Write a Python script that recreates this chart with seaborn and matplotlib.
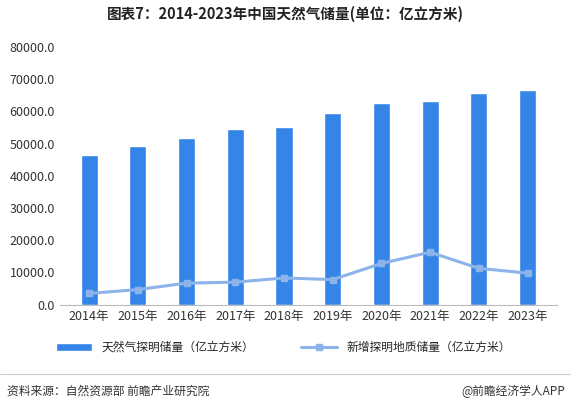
import matplotlib
matplotlib.use("Agg")
import matplotlib.pyplot as plt
import seaborn as sns
import numpy as np

years = ["2014年","2015年","2016年","2017年","2018年","2019年","2020年","2021年","2022年","2023年"]
reserves = [46400, 49200, 51900, 54400, 55200, 59400, 62700, 63400, 65700, 66800]
new_add = [3500, 4700, 6700, 7000, 8300, 7800, 12800, 16300, 11300, 9800]

sns.set_style("white")
plt.rcParams['font.family'] = ['Noto Sans CJK SC', 'DejaVu Sans']

fig = plt.figure(figsize=(5.71, 4.09), dpi=100)
ax = fig.add_axes([0.105, 0.255, 0.87, 0.63])
x = np.arange(len(years))
sns.barplot(x=x, y=reserves, color="#3585e8", saturation=1, width=0.35, ax=ax, label="天然气探明储量（亿立方米）")
ax.plot(x, new_add, color="#8db4ea", lw=2.2, marker="s", ms=5, label="新增探明地质储量（亿立方米）")
ax.set_ylim(0, 80000)
ax.set_xlim(-0.6, 9.6)
ax.set_yticks(range(0, 80001, 10000))
ax.set_yticklabels([f"{v:.1f}" for v in range(0, 80001, 10000)], fontsize=9, color="#333333")
ax.set_xticks(x)
ax.set_xticklabels(years, fontsize=9, color="#333333")
for s in ["top", "right", "left"]:
    ax.spines[s].set_visible(False)
ax.spines["bottom"].set_color("#bbbbbb")
ax.tick_params(length=0)
h, l = ax.get_legend_handles_labels()
order = [l.index("天然气探明储量（亿立方米）"), l.index("新增探明地质储量（亿立方米）")]
ax.legend([h[i] for i in order], [l[i] for i in order], loc="upper center", bbox_to_anchor=(0.45, -0.1), ncol=2, frameon=False, fontsize=8.5, handlelength=3, columnspacing=4)

fig.text(0.5, 0.955, "图表7：2014-2023年中国天然气储量(单位：亿立方米)", ha="center", fontsize=10.5, weight="bold", color="#222222")
fig.add_artist(plt.Line2D([0.0, 1.0], [0.085, 0.085], color="#cccccc", lw=0.8))
fig.text(0.012, 0.035, "资料来源：自然资源部 前瞻产业研究院", fontsize=8.5, color="#333333")
fig.text(0.99, 0.035, "@前瞻经济学人APP", fontsize=8.5, color="#333333", ha="right")
fig.savefig("out.png", dpi=100)
